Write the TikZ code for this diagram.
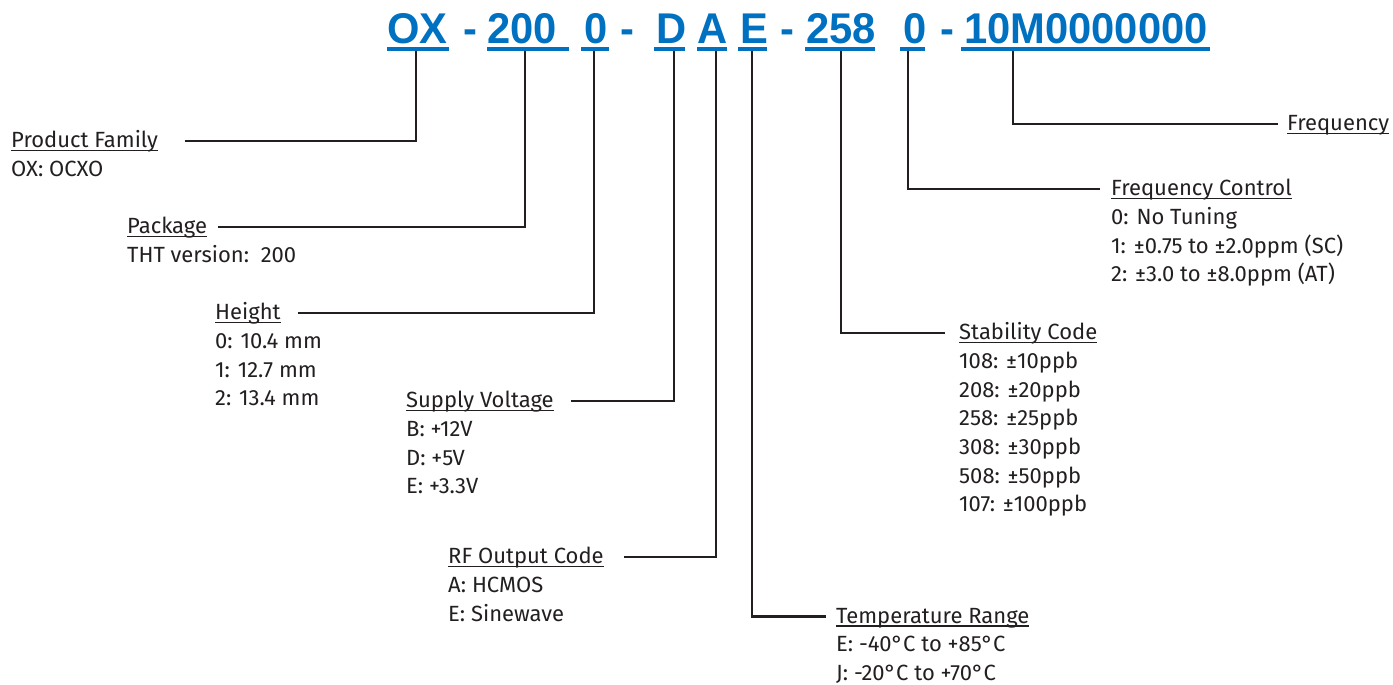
\documentclass[tikz,border=0pt]{standalone}
\usepackage{fontspec}
\setmainfont{Fira Sans}
\newfontfamily\hdrfont[FakeStretch=0.97]{Liberation Sans}
\definecolor{hblue}{RGB}{0,112,192}
\definecolor{ink}{RGB}{35,31,32}
\newcommand\ulin[1]{\setbox0\hbox{#1}\rlap{\rule[-3.6pt]{\wd0}{1.3pt}}\box0}
\tikzset{
  hdr/.style={anchor=base west, inner sep=0pt, text=hblue, font=\hdrfont\bfseries\fontsize{43}{43}\selectfont},
  hul/.style={draw=hblue, line width=4pt},
  ttl/.style={anchor=base west, inner sep=0pt, text=ink, font=\fontsize{22}{28.7}\selectfont},
  bdy/.style={anchor=north west, inner sep=0pt, align=left, text=ink, font=\fontsize{22}{28.7}\selectfont},
  conn/.style={draw=ink, line width=2.4pt}
}
\begin{document}
\begin{tikzpicture}[x=1pt,y=-1pt]
\useasboundingbox (0,0) rectangle (1393,685);
% header
\node[hdr] (h1) at (387,43.5) {OX};
\node[hdr] (m1) at (463,43.5) {-};
\node[hdr] (h2) at (487,43.5) {200};
\node[hdr] (h3) at (584,43.5) {0};
\node[hdr] (m2) at (620,43.5) {-};
\node[hdr] (h4) at (656,43.5) {D};
\node[hdr] (h5) at (697,43.5) {A};
\node[hdr] (h6) at (740,43.5) {E};
\node[hdr] (m3) at (780,43.5) {-};
\node[hdr] (h7) at (806,43.5) {258};
\node[hdr] (h8) at (903,43.5) {0};
\node[hdr] (m4) at (940,43.5) {-};
\node[hdr] (h9) at (964,43.5) {10M0000000};
\draw[hul] (387,48.7) -- (449,48.7);
\draw[hul] (487,48.7) -- (569,48.7);
\draw[hul] (581,48.7) -- (609,48.7);
\draw[hul] (654,48.7) -- (685,48.7);
\draw[hul] (697,48.7) -- (727,48.7);
\draw[hul] (738,48.7) -- (767,48.7);
\draw[hul] (805,48.7) -- (875,48.7);
\draw[hul] (900,48.7) -- (925,48.7);
\draw[hul] (961,48.7) -- (1210,48.7);
% connector tops
\coordinate (t1) at (416,51);
\coordinate (t2) at (525,51);
\coordinate (t3) at (594,51);
\coordinate (t4) at (674,51);
\coordinate (t5) at (716,51);
\coordinate (t6) at (752,51);
\coordinate (t7) at (841,51);
\coordinate (t8) at (908,51);
\coordinate (t9) at (1013,51);
% labels
\node[ttl] (pf) at (11,147.5) {\ulin{Product Family}};
\node[bdy] (pfb) at ([yshift=-8.6pt]pf.base west) {\strut OX: OCXO};
\node[ttl] (pk) at (127,233.5) {\ulin{Package}};
\node[bdy] (pkb) at ([yshift=-8.6pt]pk.base west) {\strut THT version:\ \ 200};
\node[ttl] (ht) at (215,319.5) {\ulin{Height}};
\node[bdy] (htb) at ([yshift=-8.6pt]ht.base west) {\strut 0: 10.4 mm\\1: 12.7 mm\\2: 13.4 mm};
\node[ttl] (sv) at (406,407.5) {\ulin{Supply Voltage}};
\node[bdy] (svb) at ([yshift=-8.6pt]sv.base west) {\strut B: +12V\\D: +5V\\E: +3.3V};
\node[ttl] (rf) at (448,563.5) {\ulin{RF Output Code}};
\node[bdy] (rfb) at ([yshift=-8.6pt]rf.base west) {\strut A: HCMOS\\E: Sinewave};
\node[ttl] (tr) at (836,623) {\ulin{Temperature Range}};
\node[bdy] (trb) at ([yshift=-8.6pt]tr.base west) {\strut E: -40°C to +85°C\\J: -20°C to +70°C};
\node[ttl] (sc) at (959,339.5) {\ulin{Stability Code}};
\node[bdy] (scb) at ([yshift=-8.6pt]sc.base west) {\strut 108: ±10ppb\\208: ±20ppb\\258: ±25ppb\\308: ±30ppb\\508: ±50ppb\\107: ±100ppb};
\node[ttl] (fc) at (1111,195.5) {\ulin{Frequency Control}};
\node[bdy] (fcb) at ([yshift=-8.6pt]fc.base west) {\strut 0: No Tuning\\1: ±0.75 to ±2.0ppm (SC)\\2: ±3.0 to ±8.0ppm (AT)};
\node[ttl] (fq) at (1287,130.5) {\ulin{Frequency}};
% connectors
\draw[conn] (t1) |- ([xshift=27pt,yshift=6.5pt]pf.base east);
\draw[conn] (t2) |- ([xshift=11pt,yshift=6.5pt]pk.base east);
\draw[conn] (t3) |- ([xshift=17pt,yshift=6.5pt]ht.base east);
\draw[conn] (t4) |- ([xshift=17pt,yshift=6.5pt]sv.base east);
\draw[conn] (t5) |- ([xshift=20pt,yshift=6.5pt]rf.base east);
\draw[conn] (t6) |- ([xshift=-10pt,yshift=6.5pt]tr.base west);
\draw[conn] (t7) |- ([xshift=-14pt,yshift=6.5pt]sc.base west);
\draw[conn] (t8) |- ([xshift=-11pt,yshift=6.5pt]fc.base west);
\draw[conn] (t9) |- ([xshift=-9pt,yshift=6.5pt]fq.base west);
\end{tikzpicture}
\end{document}
